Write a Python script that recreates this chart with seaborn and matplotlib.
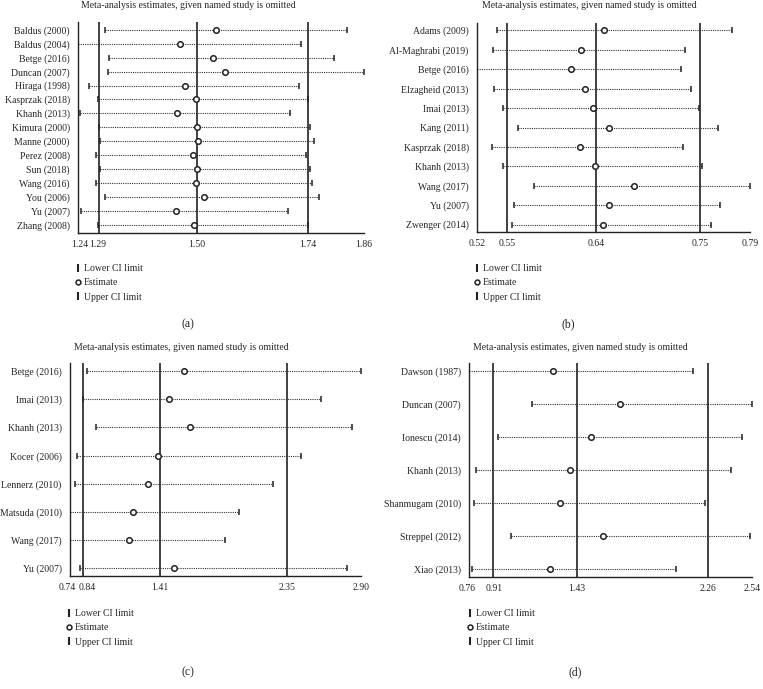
import pandas as pd
import matplotlib
matplotlib.use("Agg")
import matplotlib.pyplot as plt
import matplotlib.transforms as mtransforms
from matplotlib.lines import Line2D
import seaborn as sns

# DATA
# panel (a)
a_studies = ["Baldus (2000)", "Baldus (2004)", "Betge (2016)", "Duncan (2007)", "Hiraga (1998)",
             "Kasprzak (2018)", "Khanh (2013)", "Kimura (2000)", "Manne (2000)", "Perez (2008)",
             "Sun (2018)", "Wang (2016)", "You (2006)", "Yu (2007)", "Zhang (2008)"]
a_lower = [1.299, 1.24, 1.308, 1.306, 1.263, 1.283, 1.244, 1.285, 1.287, 1.280, 1.287, 1.280, 1.299, 1.246, 1.283]
a_est = [1.539, 1.462, 1.532, 1.558, 1.473, 1.495, 1.454, 1.497, 1.501, 1.489, 1.498, 1.496, 1.513, 1.453, 1.492]
a_upper = [1.823, 1.724, 1.794, 1.860, 1.719, 1.739, 1.700, 1.742, 1.752, 1.734, 1.742, 1.747, 1.763, 1.695, 1.738]
a_ticks = [1.24, 1.285, 1.497, 1.739, 1.86]
a_ticklabels = ["1.24", "1.29", "1.50", "1.74", "1.86"]

# panel (b)
b_studies = ["Adams (2009)", "Al-Maghrabi (2019)", "Betge (2016)", "Elzagheid (2013)", "Imai (2013)",
             "Kang (2011)", "Kasprzak (2018)", "Khanh (2013)", "Wang (2017)", "Yu (2007)", "Zwenger (2014)"]
b_lower = [0.540, 0.536, 0.520, 0.537, 0.546, 0.561, 0.535, 0.546, 0.576, 0.557, 0.555]
b_est = [0.646, 0.623, 0.613, 0.627, 0.635, 0.651, 0.622, 0.637, 0.675, 0.651, 0.645]
b_upper = [0.772, 0.726, 0.722, 0.732, 0.740, 0.758, 0.724, 0.743, 0.790, 0.760, 0.751]
b_ticks = [0.52, 0.55, 0.638, 0.741, 0.79]
b_ticklabels = ["0.52", "0.55", "0.64", "0.75", "0.79"]

# panel (c)
c_studies = ["Betge (2016)", "Imai (2013)", "Khanh (2013)", "Kocer (2006)", "Lennerz (2010)",
             "Matsuda (2010)", "Wang (2017)", "Yu (2007)"]
c_lower = [0.866, 0.837, 0.936, 0.792, 0.777, 0.74, 0.74, 0.817]
c_est = [1.585, 1.473, 1.629, 1.396, 1.322, 1.211, 1.178, 1.510]
c_upper = [2.900, 2.600, 2.836, 2.454, 2.246, 1.991, 1.887, 2.798]
c_ticks = [0.74, 0.839, 1.406, 2.348, 2.90]
c_ticklabels = ["0.74", "0.84", "1.41", "2.35", "2.90"]

# panel (d)
d_studies = ["Dawson (1987)", "Duncan (2007)", "Ionescu (2014)", "Khanh (2013)", "Shanmugam (2010)",
             "Streppel (2012)", "Xiao (2013)"]
d_lower = [0.76, 1.154, 0.942, 0.804, 0.789, 1.020, 0.779]
d_est = [1.284, 1.708, 1.525, 1.391, 1.328, 1.603, 1.269]
d_upper = [2.165, 2.540, 2.477, 2.406, 2.240, 2.527, 2.058]
d_ticks = [0.76, 0.911, 1.435, 2.263, 2.54]
d_ticklabels = ["0.76", "0.91", "1.43", "2.26", "2.54"]

TITLE = "Meta-analysis estimates, given named study is omitted"

sns.set_theme(style="white")
plt.rcParams["font.family"] = ["Liberation Serif", "DejaVu Serif"]

W, H = 763, 689
fig = plt.figure(figsize=(W / 100, H / 100), dpi=100)


def px_axes(left, right, top, bottom):
    return fig.add_axes([left / W, 1 - bottom / H, (right - left) / W, (bottom - top) / H])


def draw_panel(ax, studies, lower, est, upper, ticks, ticklabels):
    df = pd.DataFrame({"study": studies, "lower": lower, "est": est, "upper": upper})
    df["y"] = range(len(df))

    # pooled estimate and its CI
    for v in ticks[1:4]:
        ax.axvline(v, color="#333333", lw=1.3, zorder=1)

    ax.hlines(df["y"], df["lower"], df["upper"], colors="#333333", lw=0.8,
              linestyles=(0, (1, 1)), zorder=2)
    ax.plot(df["lower"], df["y"], ls="none", marker="|", ms=4.5, mew=1.1, color="#222222", zorder=3)
    ax.plot(df["upper"], df["y"], ls="none", marker="|", ms=4.5, mew=1.1, color="#222222", zorder=3)
    sns.scatterplot(data=df, x="est", y="y", ax=ax, s=16, facecolor="white",
                    edgecolor="#222222", linewidth=1.1, zorder=4, legend=False)

    n = len(df)
    pad = 0.04 * (n - 1)
    ax.set_ylim(n - 1 + pad, -pad)
    ax.set_xlim(ticks[0], ticks[-1])
    ax.set_yticks(df["y"])
    ax.set_yticklabels(df["study"], fontsize=7)
    ax.set_xticks(ticks)
    ax.set_xticklabels(ticklabels, fontsize=7)
    ax.set_xlabel("")
    ax.set_ylabel("")
    ax.tick_params(axis="y", length=0, pad=6)
    ax.tick_params(axis="x", direction="out", length=4, width=1, pad=1, color="#222222")
    for s in ["top", "right"]:
        ax.spines[s].set_visible(False)
    for s in ["left", "bottom"]:
        ax.spines[s].set_color("#222222")
        ax.spines[s].set_linewidth(1.0)


def nudge_labels(ax, shifts_px):
    # shift the crowded first two tick labels apart (as in the original)
    for lab, dx in zip(ax.get_xticklabels(), shifts_px):
        lab.set_transform(lab.get_transform() +
                          mtransforms.ScaledTranslation(dx / 100, 0, fig.dpi_scale_trans))


def add_legend(x, y):
    handles = [
        Line2D([], [], ls="none", marker="|", ms=5.5, mew=1.5, color="#222222"),
        Line2D([], [], ls="none", marker="o", ms=3.5, mew=1.1, mfc="white", mec="#222222"),
        Line2D([], [], ls="none", marker="|", ms=5.5, mew=1.5, color="#222222"),
    ]
    labels = ["Lower CI limit", "Estimate", "Upper CI limit"]
    fig.legend(handles, labels, loc="upper left", bbox_to_anchor=(x / W, 1 - y / H),
               frameon=False, fontsize=7, handlelength=0.5, handletextpad=0.3,
               labelspacing=0.55, borderpad=0, borderaxespad=0)


ax_a = px_axes(78, 364, 22, 232.7)
draw_panel(ax_a, a_studies, a_lower, a_est, a_upper, a_ticks, a_ticklabels)
nudge_labels(ax_a, [2, -1])
ax_b = px_axes(477, 750, 22.7, 232.3)
draw_panel(ax_b, b_studies, b_lower, b_est, b_upper, b_ticks, b_ticklabels)
ax_c = px_axes(70, 361, 363.3, 576)
draw_panel(ax_c, c_studies, c_lower, c_est, c_upper, c_ticks, c_ticklabels)
nudge_labels(ax_c, [-3, 4])
ax_d = px_axes(469.3, 752.3, 363, 577.3)
draw_panel(ax_d, d_studies, d_lower, d_est, d_upper, d_ticks, d_ticklabels)
nudge_labels(ax_d, [-2, 1])

# titles
fig.text(188 / W, 1 - 6 / H, TITLE, ha="center", va="center", fontsize=7)
fig.text(589 / W, 1 - 6 / H, TITLE, ha="center", va="center", fontsize=7)
fig.text(181 / W, 1 - 348 / H, TITLE, ha="center", va="center", fontsize=7)
fig.text(580 / W, 1 - 348 / H, TITLE, ha="center", va="center", fontsize=7)

# legends
add_legend(76, 264)
add_legend(475, 264)
add_legend(67, 609)
add_legend(468, 609)

# panel labels
fig.text(188 / W, 1 - 324 / H, "(a)", ha="center", va="center", fontsize=8.5)
fig.text(568 / W, 1 - 324 / H, "(b)", ha="center", va="center", fontsize=8.5)
fig.text(188 / W, 1 - 672 / H, "(c)", ha="center", va="center", fontsize=8.5)
fig.text(575 / W, 1 - 672 / H, "(d)", ha="center", va="center", fontsize=8.5)

fig.savefig("out.png", dpi=100)
